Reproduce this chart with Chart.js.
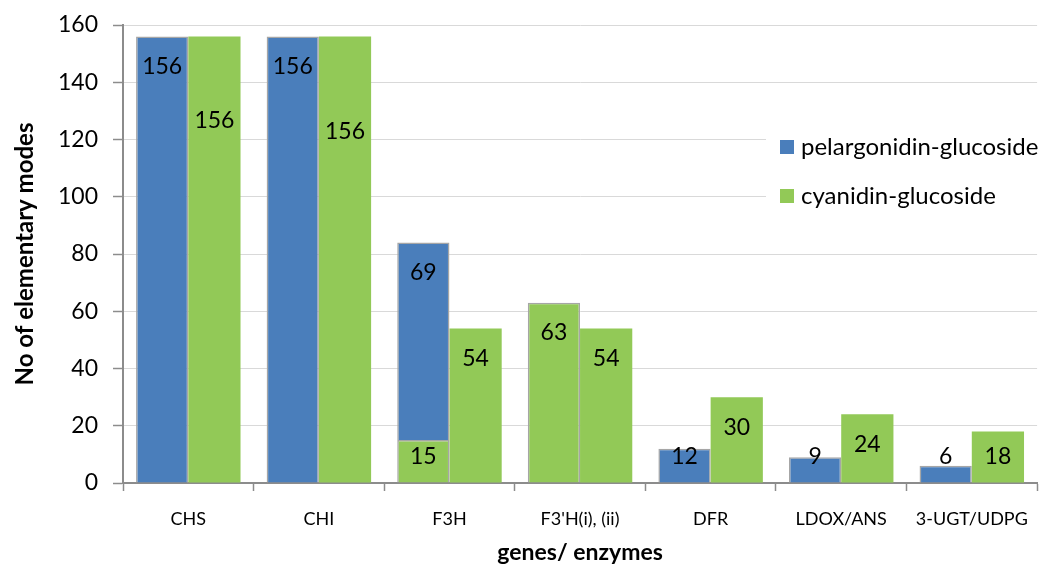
<!DOCTYPE html>
<html><head><meta charset="utf-8">
<script src="https://cdn.jsdelivr.net/npm/chart.js@4"></script>
<style>html,body{margin:0;padding:0;background:#fff;}#wrap{width:1045px;height:566px;}</style>
</head><body><div id="wrap"><canvas id="c" width="1045" height="566"></canvas></div>
<script>
const categories = ["CHS", "CHI", "F3H", "F3'H(i), (ii)", "DFR", "LDOX/ANS", "3-UGT/UDPG"];
const pelargonidin = [156, 156, 69, 0, 12, 9, 6];
const cyanidinShared = [0, 0, 15, 63, 0, 0, 0];
const cyanidin = [156, 156, 54, 54, 30, 24, 18];
const yTicks = [0, 20, 40, 60, 80, 100, 120, 140, 160];
const cyanidinLabelDrop = [54, 65, 0, 0, 0, 0, 0];

const BLUE = '#4A7EBB', GREEN = '#92C957', EDGE = '#A6A6A6';
const FONT = 'Lato, "Open Sans", sans-serif';

const labelPlugin = {
  id: 'vals',
  afterDatasetsDraw(chart) {
    const ctx = chart.ctx;
    const base = chart.scales.y.getPixelForValue(0);
    ctx.save();
    ctx.font = '23px ' + FONT;
    ctx.fillStyle = '#000';
    ctx.textAlign = 'center';
    ctx.textBaseline = 'middle';
    chart.data.datasets.forEach((ds, di) => {
      const meta = chart.getDatasetMeta(di);
      meta.data.forEach((bar, i) => {
        const v = ds.data[i];
        if (!v) return;
        let y = Math.min(bar.y + 30, base - 26);
        if (ds.extraDrop) y += ds.extraDrop[i];
        ctx.fillText(String(v), bar.x, y);
      });
    });
    ctx.restore();
  }
};

const legendPlugin = {
  id: 'ovLegend',
  afterDraw(chart) {
    const ctx = chart.ctx;
    ctx.save();
    ctx.fillStyle = '#fff';
    ctx.fillRect(766, 122, 279, 96);
    const items = [[chart.data.datasets[1].label, BLUE, 147], [chart.data.datasets[2].label, GREEN, 196]];
    ctx.font = '24px ' + FONT;
    ctx.textBaseline = 'middle';
    ctx.textAlign = 'left';
    items.forEach(([t, c, y]) => {
      ctx.fillStyle = c;
      ctx.fillRect(780, y - 7, 14, 14);
      ctx.fillStyle = '#000';
      ctx.fillText(t, 801, y);
    });
    ctx.restore();
  }
};

new Chart(document.getElementById('c'), {
  type: 'bar',
  data: {
    labels: categories,
    datasets: [
      { label: 'cyanidin-glucoside (shared)', data: cyanidinShared, stack: 'a', backgroundColor: GREEN, borderColor: EDGE, borderWidth: 1.5, borderSkipped: 'bottom' },
      { label: 'pelargonidin-glucoside', data: pelargonidin, stack: 'a', backgroundColor: BLUE, borderColor: EDGE, borderWidth: 1.5, borderSkipped: 'bottom' },
      { label: 'cyanidin-glucoside', data: cyanidin, stack: 'b', backgroundColor: GREEN, borderWidth: 0, extraDrop: cyanidinLabelDrop }
    ]
  },
  options: {
    responsive: false,
    animation: false,
    layout: { padding: { top: 25, right: 3, bottom: 0, left: 0 } },
    plugins: { legend: { display: false }, tooltip: { enabled: false } },
    datasets: { bar: { categoryPercentage: 0.8, barPercentage: 1.0 } },
    scales: {
      x: {
        stacked: true,
        offset: true,
        grid: { display: true, drawOnChartArea: false, offset: true, tickLength: 8, tickColor: '#8c8c8c', tickWidth: 1.5 },
        border: { color: '#8c8c8c', width: 2 },
        ticks: { color: '#000', font: { family: FONT, size: 18 }, padding: 17, maxRotation: 0, autoSkip: false },
        title: { display: true, text: 'genes/ enzymes', color: '#000', font: { family: FONT, size: 23, weight: 'bold' }, padding: { top: 0, bottom: 0 } },
        afterFit(s) { s.height = 83; }
      },
      y: {
        stacked: true,
        min: 0, max: 160,
        afterBuildTicks(s) { s.ticks = yTicks.map(v => ({ value: v })); },
        grid: { color: '#d9d9d9', lineWidth: 1, tickLength: 10, tickColor: '#8c8c8c', tickWidth: 1.5 },
        border: { color: '#8c8c8c', width: 2 },
        ticks: { color: '#000', font: { family: FONT, size: 23 }, padding: 15 },
        title: { display: true, text: 'No of elementary modes', color: '#000', font: { family: FONT, size: 24, weight: 'bold' }, padding: { top: 11, bottom: 0 } },
        afterFit(s) { s.width = 123; s.paddingTop = 0; s.paddingBottom = 0; }
      }
    }
  },
  plugins: [labelPlugin, legendPlugin]
});
</script></body></html>
